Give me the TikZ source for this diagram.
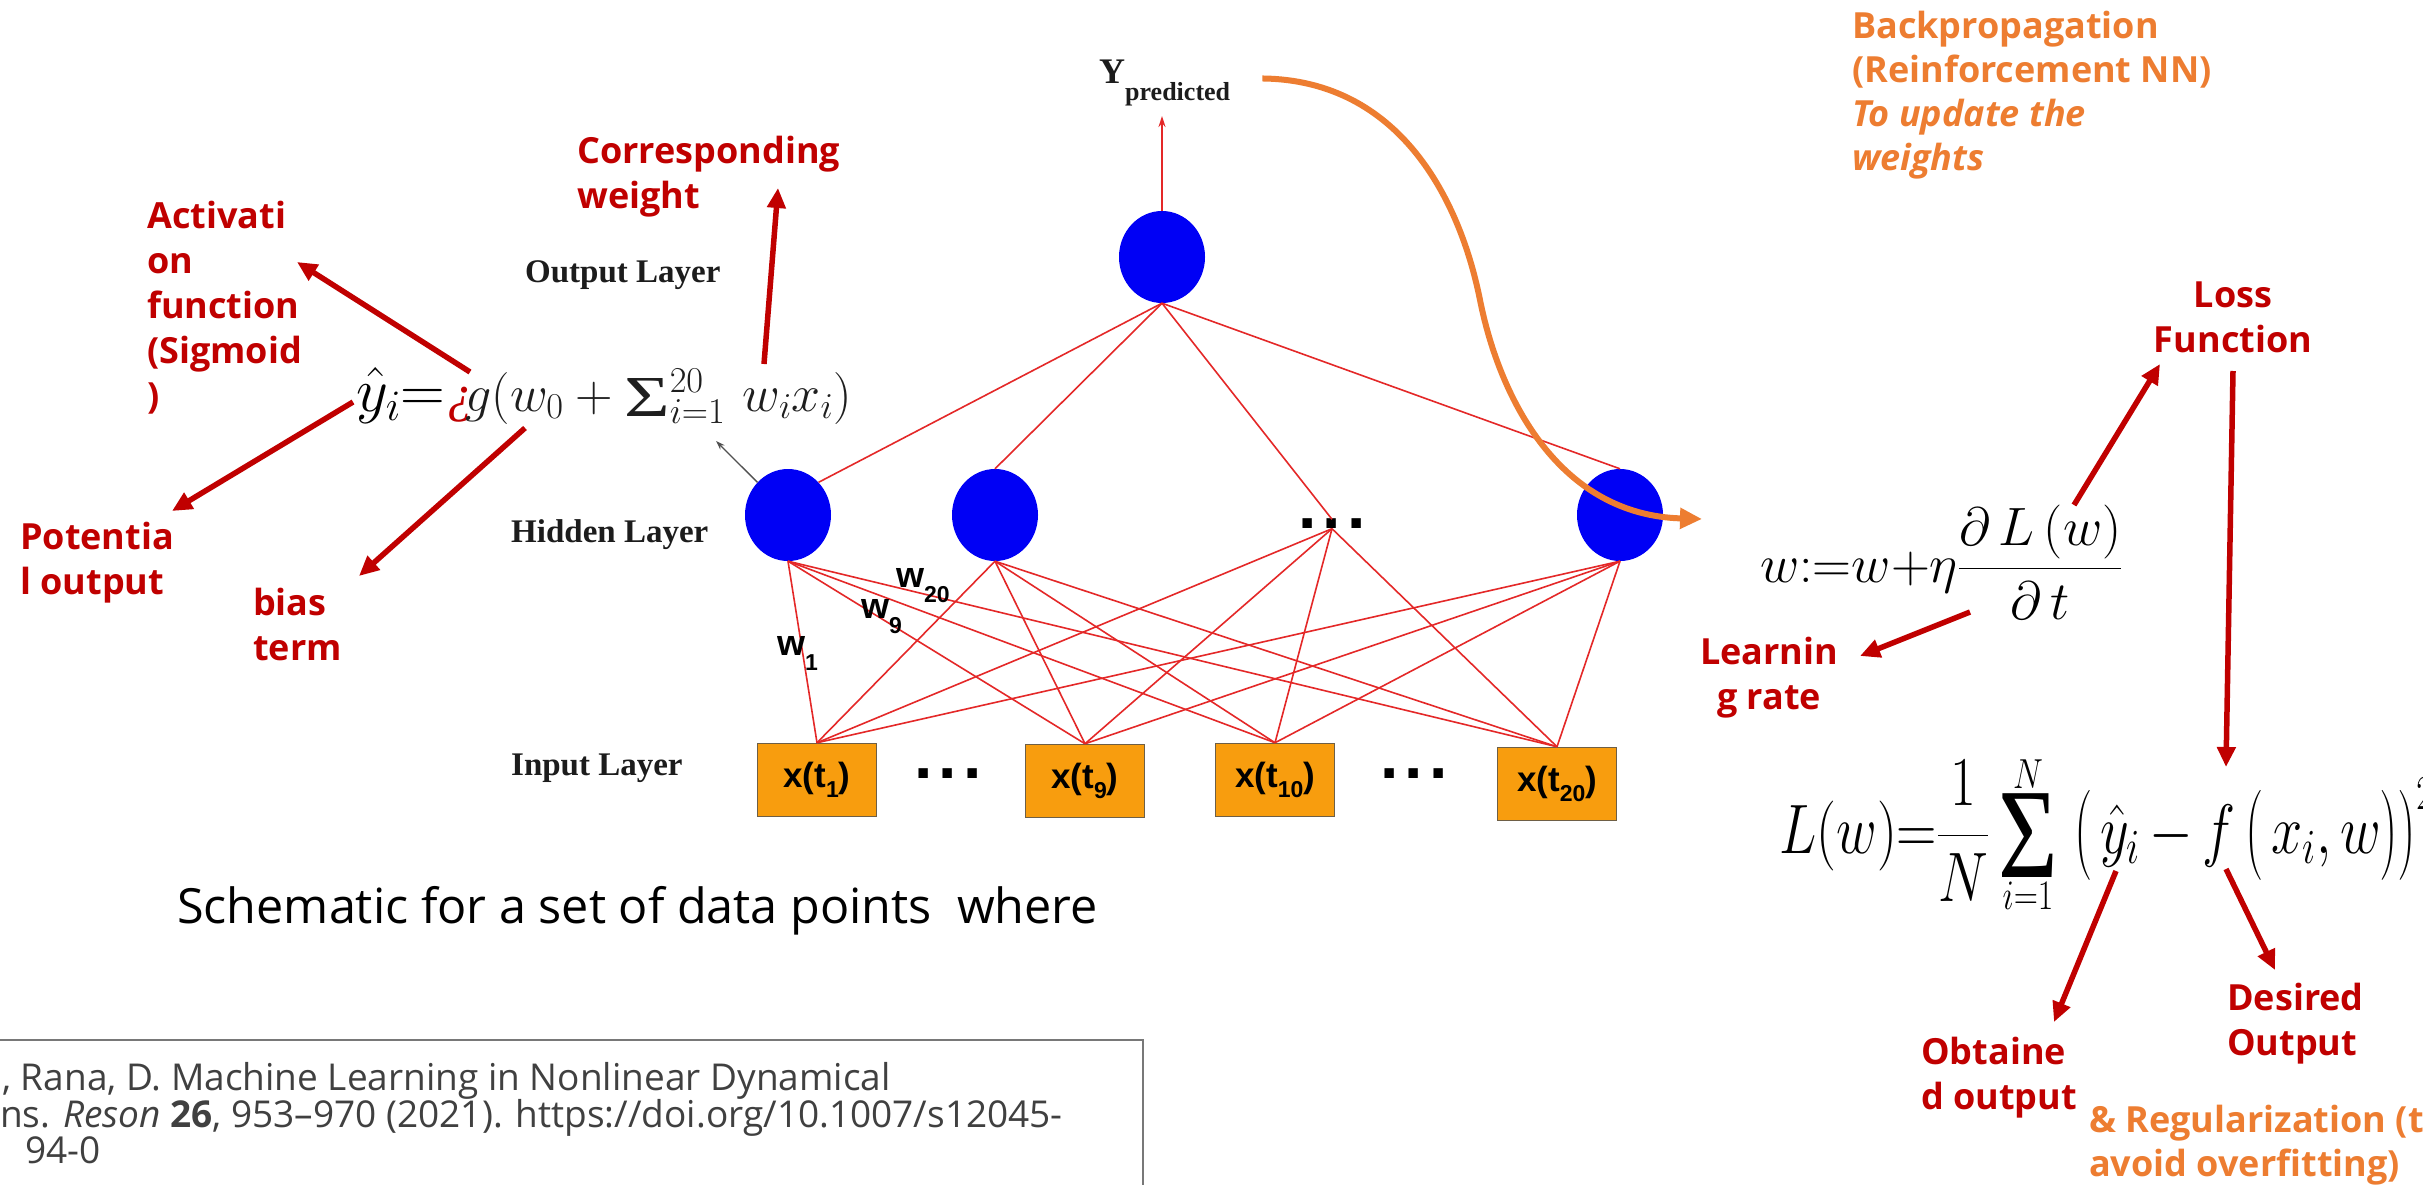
\RequirePackage{fix-cm}
\documentclass[tikz,border=0pt]{standalone}
\usepackage{amsmath}
\usepackage{fontspec}
\setmainfont{Open Sans}
\newfontfamily\timesfont{Liberation Serif}
\newfontfamily\arialbf{Liberation Sans}
\usetikzlibrary{arrows.meta,shapes.geometric}

\definecolor{annred}{RGB}{192,0,0}
\definecolor{annorange}{RGB}{237,125,49}
\definecolor{netred}{RGB}{228,40,40}
\definecolor{neuronblue}{RGB}{0,0,245}
\definecolor{inputorange}{RGB}{248,157,14}
\definecolor{citegray}{RGB}{64,64,64}
\definecolor{labgray}{RGB}{28,28,28}
\definecolor{mathgray}{RGB}{30,30,30}

\newcommand\fs[2]{\fontsize{#1}{#2}\selectfont}
\newcommand\xt[1]{x(t\raisebox{-10pt}{\fs{23}{23}#1})}
\newcommand\wlab[1]{w\raisebox{-15pt}{\fs{23}{23}#1}}
% summation sign set from a text face: size, horizontal stretch
\newcommand\bigsigma[2]{\mathop{\vcenter{\hbox{\scalebox{#2}[1]{\timesfont\fs{#1}{#1}Σ}}}}}

\begin{document}
\begin{tikzpicture}[x=1pt,y=-1pt,
  neuron/.style={ellipse, fill=neuronblue, minimum width=86pt, minimum height=92pt, inner sep=0pt},
  inbox/.style={rectangle, fill=inputorange, draw={rgb,255:red,110;green,95;blue,70}, line width=1.5pt,
    minimum width=119pt, minimum height=73pt, inner sep=0pt, font=\arialbf\bfseries\fs{35}{35}},
  layerlab/.style={anchor=base west, inner sep=0pt, text=labgray, font=\timesfont\bfseries\fs{33}{33}},
  wlabel/.style={anchor=base west, inner sep=0pt, font=\arialbf\bfseries\fs{36}{36}},
  dotrow/.style={inner sep=0pt, text height=9pt, text depth=0pt, font=\arialbf\bfseries\fs{66}{66}},
  wire/.style={draw=netred, line width=1.6pt},
  ann/.style={draw=annred, line width=5.5pt, -{Triangle[length=20pt,width=18pt]}},
  redlab/.style={text=annred, font=\bfseries\fs{36}{45}, inner sep=0pt},
  orangelab/.style={text=annorange, font=\bfseries\fs{36}{44}, inner sep=0pt},
  backprop/.style={draw=annorange, line width=6pt, -{Triangle[length=22pt,width=20pt]}},
  citetext/.style={anchor=base west, inner sep=0pt, text=citegray, font=\fs{37}{40}}
]
\useasboundingbox (0,0) rectangle (2423,1185);
\fill[white] (0,0) rectangle (2423,1185);
\clip (0,0) rectangle (2423,1185);

% ---------------- network ----------------
\node[neuron] (o)  at (1162,257) {};
\node[neuron] (h1) at (788,515) {};
\node[neuron] (h2) at (995,515) {};
\node[dotrow] (hd) at (1332,524) {.\hspace{6pt}.\hspace{6pt}.};
\node[neuron] (h4) at (1620,515) {};

\node[inbox] (x1) at (817,780) {\xt{1}};
\node[dotrow] (xd1) at (948,774) {.\hspace{6pt}.\hspace{6pt}.};
\node[inbox] (x2) at (1085,781) {\xt{9}};
\node[inbox] (x3) at (1275,780) {\xt{10}};
\node[dotrow] (xd2) at (1414,774) {.\hspace{6pt}.\hspace{6pt}.};
\node[inbox] (x4) at (1557,784) {\xt{20}};

% output to hidden layer
\draw[wire] (o.south) -- (h1.north east);
\draw[wire] (o.south) -- (h2.north);
\draw[wire] (o.south) -- (hd.north);
\draw[wire] (o.south) -- (h4.north);

% hidden to input layer (fully connected)
\foreach \h in {h1,h2,hd,h4}{
  \foreach \x in {x1,x2,x3,x4}{
    \draw[wire] (\h.south) -- (\x.north);
  }
}

% output value
\node[inner sep=0pt, anchor=base west, text=labgray, font=\timesfont\bfseries\fs{36}{36}] (ypred) at (1099,84)
  {Y\raisebox{-17pt}{\fs{26}{26}predicted}};
\coordinate (ytip) at (1162,116);
\draw[wire, -{Stealth[length=11pt,width=7pt]}] (o.north) -- (ytip);

% layer names
\node[layerlab] (lout) at (525,282) {Output Layer};
\node[layerlab] (lhid) at (511,542) {Hidden Layer};
\node[layerlab] (lin)  at (511,775) {Input Layer};

% weight labels
\node[wlabel] (w20) at (896,587) {\wlab{20}};
\node[wlabel] (w9)  at (861,618) {\wlab{9}};
\node[wlabel] (w1)  at (777,655) {\wlab{1}};

% ---------------- neuron formula ----------------
\node[anchor=base west, inner sep=0pt] (neq) at (356,411)
  {\fs{62}{62}$\hat{y}_{i}{=}$\hspace{2pt}{\color{annred}\timesfont\itshape\fs{52}{52}¿}\hspace{-8pt}{\color{mathgray}\fs{52}{52}$g(w_0+\bigsigma{58}{1.35}\nolimits_{i=1}^{20}\,w_ix_i)$}};
\coordinate (sumtip) at (716,441);
\draw[draw={rgb,255:red,80;green,80;blue,80}, line width=1.3pt, -{Stealth[length=9pt,width=6pt]}] (h1.north west) -- (sumtip);

% annotations of the neuron formula
\node[redlab, anchor=north west, align=left] (lact) at (147,201) {Activati\\on\\function\\(Sigmoid\\)};
\node[redlab, anchor=north west, align=left] (lcor) at (577,136) {Corresponding\\weight};
\node[redlab, anchor=north west, align=left] (lpot) at (20,522) {Potentia\\l output};
\node[redlab, anchor=north west, align=left] (lbias) at (253,588) {bias\\term};

\coordinate (a1s) at (470,372);  \coordinate (a1e) at (297,262);
\coordinate (a2s) at (764,364);  \coordinate (a2e) at (778,188);
\coordinate (a3s) at (353,402);  \coordinate (a3e) at (172,511);
\coordinate (a4s) at (525,428);  \coordinate (a4e) at (359,576);
\draw[ann] (a1s) -- (a1e);
\draw[ann] (a2s) -- (a2e);
\draw[ann] (a3s) -- (a3e);
\draw[ann] (a4s) -- (a4e);

% ---------------- caption and reference ----------------
\node[anchor=base west, inner sep=0pt, font=\fs{48.5}{48.5}] (cap) at (177,923) {Schematic for a set of data points\ \ where};

\draw[draw={rgb,255:red,120;green,120;blue,120}, line width=2pt] (-20,1040) -- (1143,1040) -- (1143,1200);
\node[citetext] (c1) at (2,1090) {, Rana, D. Machine Learning in Nonlinear Dynamical};
\node[citetext] (c2) at (0,1127) {ns. \textit{Reson} \textbf{26}, 953–970 (2021). https://doi.org/10.1007/s12045-};
\node[citetext] (c3) at (25,1163) {94-0};

% ---------------- training side ----------------
\node[orangelab, anchor=north west, align=left] (lbp) at (1852,11)
  {Backpropagation\\(Reinforcement NN)\\\textit{To update the}\\\textit{weights}};

\draw[backprop] ([xshift=32pt,yshift=5pt]ypred.east) .. controls (1400,80) and (1460,200) .. (1480,300)
  .. controls (1500,400) and (1560,515) .. (1702,519);

\node[anchor=base west, inner sep=0pt] (upd) at (1760,582)
  {\fs{54}{54}$w{:}{=}w{+}\eta\dfrac{\partial\,L\left(w\right)}{\partial\, t}$};

\node[anchor=base west, inner sep=0pt] (loss) at (1779,853)
  {\scalebox{0.8}[1]{\fs{70}{70}$\displaystyle L(w){=}\frac{1}{N}\bigsigma{128}{1}\limits_{\hbox{\fs{42}{42}$i{=}1$}}^{\hbox{\fs{42}{42}$N$}}\;\bigl(\,\hat{y}_i\,{-}\,f\,\bigl(\,x_i,w\bigr)\bigr)^{2}$}};

\node[redlab, anchor=north, align=center] (lloss) at (2233,282) {Loss\\Function};
\node[redlab, anchor=north, align=center] (llr) at (1769,637) {Learnin\\g rate};
\node[redlab, anchor=north west, align=left] (lobt) at (1921,1037) {Obtaine\\d output};
\node[redlab, anchor=north west, align=left] (ldes) at (2227,983) {Desired\\Output};
\node[orangelab, anchor=north west, align=left] (lreg) at (2089,1105) {\& Regularization (to\\avoid overfitting)};

\coordinate (b1s) at (2074,505);  \coordinate (b1e) at (2160,364);
\coordinate (b2s) at (2233,371);  \coordinate (b2e) at (2226,767);
\coordinate (b3s) at (1970,612);  \coordinate (b3e) at (1860,656);
\coordinate (b4s) at (2116,871);  \coordinate (b4e) at (2054,1022);
\coordinate (b5s) at (2226,869);  \coordinate (b5e) at (2275,970);
\draw[ann] (b1s) -- (b1e);
\draw[ann] (b2s) -- (b2e);
\draw[ann] (b3s) -- (b3e);
\draw[ann] (b4s) -- (b4e);
\draw[ann] (b5s) -- (b5e);
\end{tikzpicture}
\end{document}
